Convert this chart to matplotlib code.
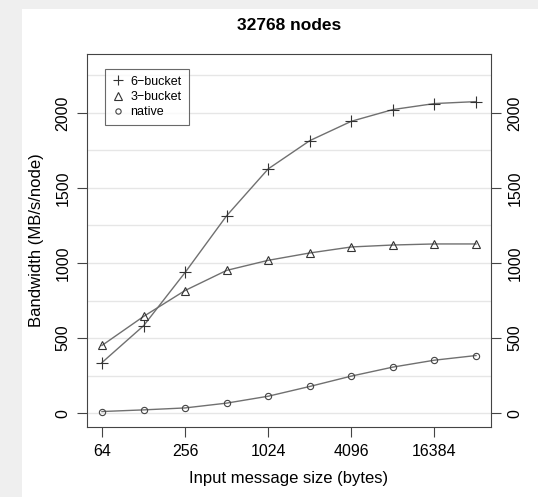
import matplotlib
matplotlib.use("Agg")
import matplotlib.pyplot as plt
from matplotlib.patches import Rectangle
from matplotlib.ticker import FixedLocator, FixedFormatter, NullLocator

plt.rcParams['font.family'] = ['Liberation Sans', 'DejaVu Sans']

sizes = [64, 128, 256, 512, 1024, 2048, 4096, 8192, 16384, 32768]
six_bucket = [337, 582, 937, 1315, 1627, 1815, 1944, 2022, 2062, 2075]
three_bucket = [451, 644, 817, 951, 1018, 1067, 1107, 1120, 1127, 1127]
native = [11, 22, 35, 67, 113, 178, 247, 307, 353, 384]
x_ticks = [64, 256, 1024, 4096, 16384]
x_tick_labels = ["64", "256", "1024", "4096", "16384"]
y_ticks = [0, 500, 1000, 1500, 2000]
y_grid = [0, 250, 500, 750, 1000, 1250, 1500, 1750, 2000, 2250]

W, H = 538, 497
fig = plt.figure(figsize=(W / 100, H / 100), dpi=100, facecolor="#efefef")
bg = Rectangle((22 / W, 0), 1 - 22 / W, 1 - 9 / H, transform=fig.transFigure,
               facecolor="white", edgecolor="none", zorder=-10)
fig.add_artist(bg)

ax = fig.add_axes([87 / W, 1 - 427 / H, (491 - 87) / W, (427 - 54) / H])
ax.set_zorder(5)
ax.set_facecolor("white")

for g in y_grid:
    ax.axhline(g, color="#e6e6e6", lw=1.0, zorder=0)

line_col = "#707070"
ax.plot(sizes, six_bucket, color=line_col, lw=1.0, marker="+", markersize=8,
        markeredgecolor="#333333", markeredgewidth=0.8, label="6\u2212bucket", zorder=3)
ax.plot(sizes, three_bucket, color=line_col, lw=1.0, marker="^", markersize=6,
        markerfacecolor="none", markeredgecolor="#333333", markeredgewidth=0.8,
        label="3\u2212bucket", zorder=3)
ax.plot(sizes, native, color=line_col, lw=1.0, marker="o", markersize=4.5,
        markerfacecolor="none", markeredgecolor="#444444", markeredgewidth=0.8,
        label="native", zorder=3)

ax.set_xscale("log", base=2)
ax.set_xlim(2 ** 5.64, 2 ** 15.36)
ax.set_ylim(-92, 2392)
ax.xaxis.set_major_locator(FixedLocator(x_ticks))
ax.xaxis.set_major_formatter(FixedFormatter(x_tick_labels))
ax.xaxis.set_minor_locator(NullLocator())
ax.set_yticks(y_ticks)
ax.set_yticklabels([str(v) for v in y_ticks])

ax.tick_params(axis="x", direction="out", length=7, width=0.8, colors="#444444",
               labelcolor="black", labelsize=11.5, pad=5)
ax.tick_params(axis="y", direction="out", length=7, width=0.8, colors="#444444",
               labelcolor="black", labelsize=11.5, pad=5,
               left=True, right=True, labelleft=True, labelright=True)
for t in ax.yaxis.get_major_ticks():
    t.label1.set_rotation(90)
    t.label1.set_va("center")
    t.label2.set_rotation(90)
    t.label2.set_va("center")

for s in ax.spines.values():
    s.set_color("#444444")
    s.set_linewidth(0.8)

ax.set_title("32768 nodes", fontsize=12.5, fontweight="bold", pad=17)
ax.set_xlabel("Input message size (bytes)", fontsize=12, labelpad=9)
ax.set_ylabel("Bandwidth (MB/s/node)", fontsize=12, labelpad=8)

leg = ax.legend(loc="upper left", bbox_to_anchor=(18 / 404, 1 - 15 / 373), fontsize=9,
                frameon=True, fancybox=False, edgecolor="#444444", handlelength=0.9,
                handletextpad=0.6, borderpad=0.55, labelspacing=0.25, borderaxespad=0,
                markerscale=0.85)
for h in leg.get_lines():
    h.set_linestyle("none")
leg.get_frame().set_linewidth(0.8)

fig.savefig("out.png", dpi=100, facecolor=fig.get_facecolor())
